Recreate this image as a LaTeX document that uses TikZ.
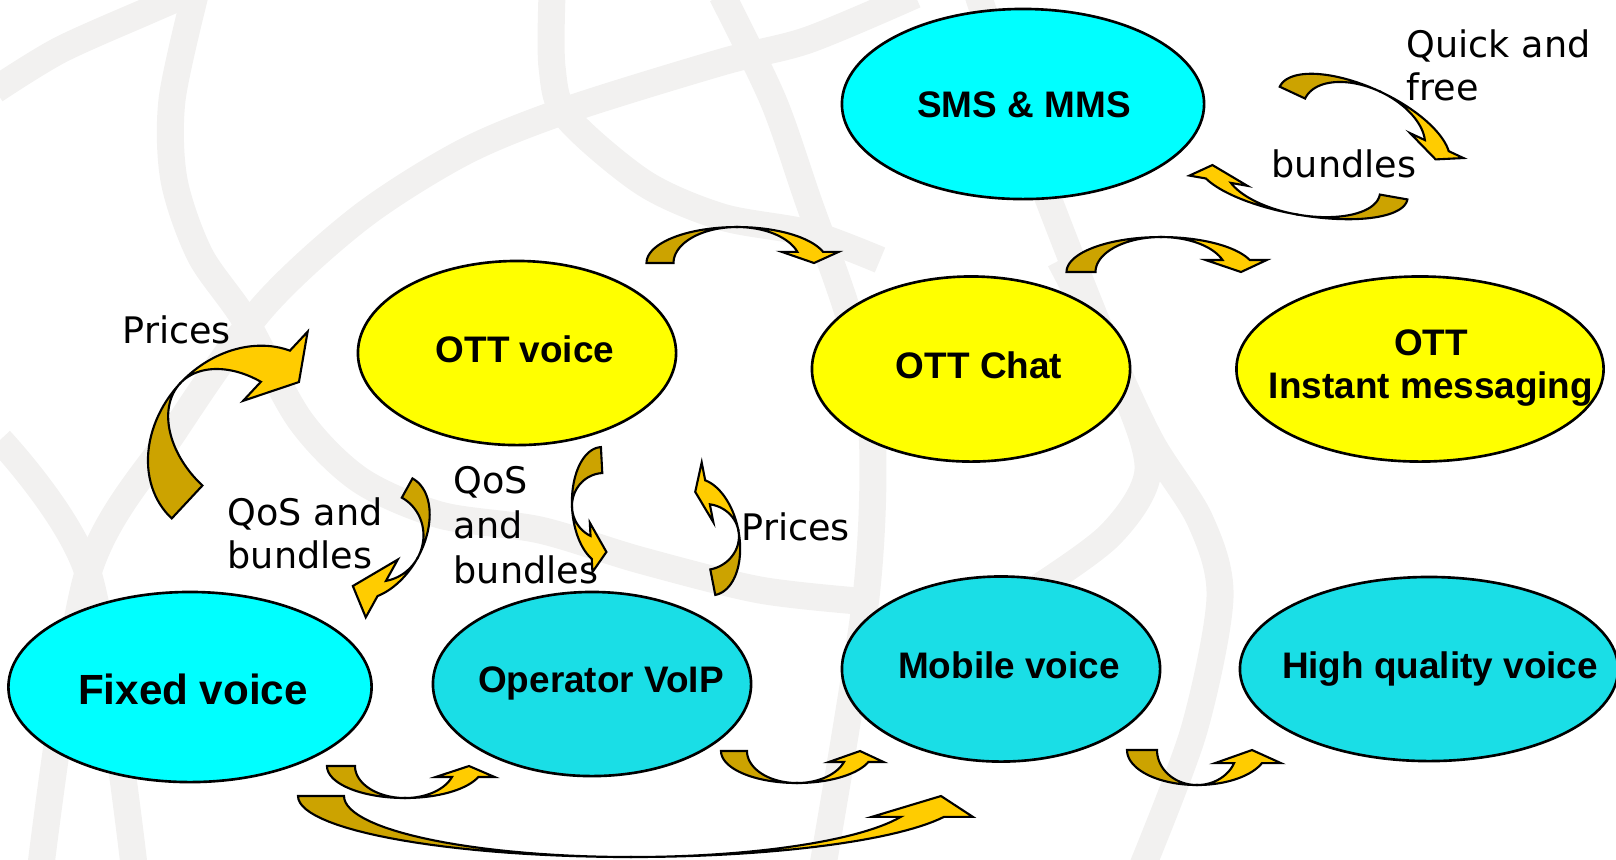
\documentclass[tikz,border=0pt]{standalone}
\usepackage{fontspec}
\setmainfont{DejaVu Sans}
\newfontfamily\arialf{Liberation Sans}
\usepackage{tikz}
\usetikzlibrary{shapes.geometric}
\definecolor{aqua}{RGB}{0,255,255}
\definecolor{teal2}{RGB}{26,222,230}
\definecolor{lemon}{RGB}{255,255,0}
\definecolor{goldd}{RGB}{204,163,0}
\definecolor{goldl}{RGB}{255,204,0}
\definecolor{wmark}{RGB}{242,241,240}

% curved block arrow: cx, cy, rx, height, rotation, tail angle, head base angle, tip angle, width
\def\headf{1.05}
\newcommand{\swoosh}[9]{%
  \begin{scope}[shift={(#1,#2)},rotate=#5]
    \pgfmathsetmacro\ka{#6}\pgfmathsetmacro\kh{#7}\pgfmathsetmacro\kb{#8}
    \pgfmathsetmacro\km{(\ka+\kb)/2}\pgfmathsetmacro\kw{#9/2}
    \pgfmathsetmacro\kf{\headf*#9*ifthenelse(cos(\kh)>0,1,-1)}
    \filldraw[rear] plot[domain=\ka:\km,samples=30] ({(#3+\kw)*cos(\x)},{#4*sin(\x)})
      -- plot[domain=\km:\ka,samples=30] ({(#3-\kw)*cos(\x)},{#4*sin(\x)}) -- cycle;
    \filldraw[face] plot[domain=\km:\kh,samples=30] ({(#3+\kw)*cos(\x)},{#4*sin(\x)})
      -- ({#3*cos(\kh)+\kf},{#4*sin(\kh)}) -- ({#3*cos(\kb)},{#4*sin(\kb)})
      -- ({#3*cos(\kh)-\kf},{#4*sin(\kh)})
      -- plot[domain=\kh:\km,samples=30] ({(#3-\kw)*cos(\x)},{#4*sin(\x)}) -- cycle;
  \end{scope}}

\begin{document}
\begin{tikzpicture}[x=0.01cm,y=-0.01cm,
  blob/.style={ellipse,draw=black,line width=0.75pt,inner sep=0pt},
  title/.style={font=\arialf\bfseries\fontsize{10.5}{12}\selectfont,anchor=base,inner sep=0pt},
  lbl/.style={font=\fontsize{10.4}{12.6}\selectfont,anchor=base west,inner sep=0pt},
  rear/.style={fill=goldd,draw=black,line width=0.6pt},
  face/.style={fill=goldl,draw=black,line width=0.6pt},
  wm/.style={draw=wmark,line width=0.27cm}]
  \useasboundingbox (0,0) rectangle (1616,859);

  % watermark
  \draw[wm] plot[smooth] coordinates {(-5,90) (60,50) (150,10) (185,-5)};
  \draw[wm] plot[smooth] coordinates {(195,-5) (172,100) (174,180) (200,255) (245,320) (300,420)
    (360,480) (440,515) (540,530) (640,560) (760,590) (870,602)};
  \draw[wm] plot[smooth] coordinates {(915,-5) (808,40) (722,62) (567,110) (464,152) (361,217)
    (263,307) (175,430) (88,573) (41,865)};
  \draw[wm] plot[smooth] coordinates {(0,440) (88,573) (134,865)};
  \draw[wm] plot[smooth] coordinates {(552,-5) (552,67) (567,117) (644,183) (722,217) (808,233) (880,260)};
  \draw[wm] plot[smooth] coordinates {(722,-5) (773,100) (808,200) (850,320) (872,430) (866,597) (823,865)};
  \draw[wm] plot[smooth] coordinates {(978,-5) (1030,150) (1100,330) (1150,440) (1200,520)
    (1220,597) (1194,730) (1143,865)};
  \draw[wm] plot[smooth] coordinates {(1060,260) (1120,380) (1148,470) (1110,535) (1024,597) (1000,610)};

  % bubbles
  \node[blob,fill=aqua,minimum width=3.62cm,minimum height=1.90cm] (sms) at (1023,104) {};
  \node[blob,fill=lemon,minimum width=3.18cm,minimum height=1.84cm] (ottv) at (517,353) {};
  \node[blob,fill=lemon,minimum width=3.18cm,minimum height=1.85cm] (chat) at (971,369) {};
  \node[blob,fill=lemon,minimum width=3.67cm,minimum height=1.85cm] (im) at (1420,369) {};
  \node[blob,fill=aqua,minimum width=3.63cm,minimum height=1.90cm] (fixed) at (190,687) {};
  \node[blob,fill=teal2,minimum width=3.18cm,minimum height=1.84cm] (voip) at (592,684) {};
  \node[blob,fill=teal2,minimum width=3.18cm,minimum height=1.85cm] (mobile) at (1001,669) {};
  \node[blob,fill=teal2,minimum width=3.78cm,minimum height=1.84cm] (hq) at (1429,669) {};

  \node[title] (smsT) at (1024,117) {SMS \& MMS};
  \node[title] (ottvT) at (525,362) {OTT voice};
  \node[title] (chatT) at (979,378) {OTT Chat};
  \node[title] (imT) at (1431,355) {OTT};
  \node[title] (imT2) at (1431,398) {Instant messaging};
  \node[title,font=\arialf\bfseries\fontsize{12}{14}\selectfont] (fixedT) at (193,704) {Fixed voice};
  \node[title] (voipT) at (601,692) {Operator VoIP};
  \node[title] (mobileT) at (1009,678) {Mobile voice};
  \node[title] (hqT) at (1440,678) {High quality voice};

  % labels
  \node[lbl] (quick) at (1406,57) {Quick and};
  \node[lbl] (quick2) at (1406,100) {free};
  \node[lbl] (bund) at (1271,177) {bundles};
  \node[lbl] (priceL) at (122,343) {Prices};
  \node[lbl] (qosL) at (227,525) {QoS and};
  \node[lbl] (qosL2) at (227,568) {bundles};
  \node[lbl] (qosM) at (453,493) {QoS};
  \node[lbl] (qosM2) at (453,538) {and};
  \node[lbl] (qosM3) at (453,583) {bundles};
  \node[lbl] (priceR) at (741,540) {Prices};

  % arrows
  \swoosh{737}{263}{77}{36}{0}{180}{342}{360}{27}
  \swoosh{1161}{272}{80}{35}{0}{180}{340}{360}{29}
  \swoosh{1364}{126}{79}{38}{-25}{180}{340}{360}{28}
  \swoosh{1303}{181}{92}{34}{-10}{0}{155}{180}{28}
  \swoosh{243}{442}{82}{86}{47}{180}{341}{360}{45}
  {\def\headf{1.5}\swoosh{380}{537}{56}{43}{-119}{180}{322}{360}{22}}
  {\def\headf{0.95}\swoosh{604}{506}{46}{32}{-87}{180}{28}{0}{26}}
  {\def\headf{1.17}\swoosh{704}{537}{46}{35}{101}{180}{20}{0}{26}}
  \swoosh{405}{766}{64}{32}{0}{180}{20}{0}{28}
  \swoosh{797}{751}{63}{32}{0}{180}{20}{0}{26}
  {\def\headf{1.1}\swoosh{1197}{750}{55}{35}{0}{180}{22}{0}{30}}
  {\def\headf{1.1}\swoosh{631}{796}{310}{61}{0}{180}{20}{0}{46}}
\end{tikzpicture}
\end{document}
